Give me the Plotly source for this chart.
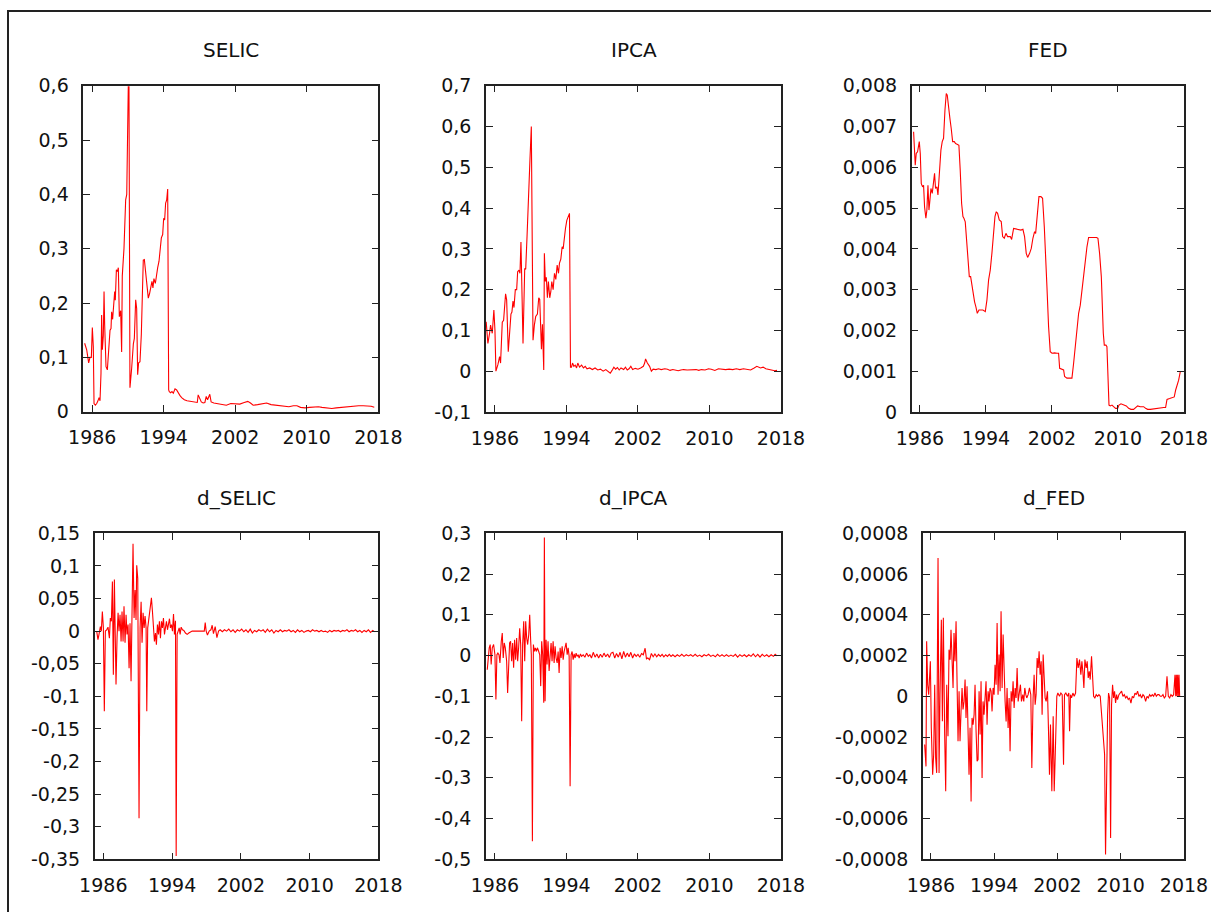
import plotly.graph_objects as go

W, H = 1211, 912

# ---------------- data (decimal year, value) ----------------
SELIC = [
    (1985.15, 0.126), (1985.38, 0.114), (1985.60, 0.090), (1985.75, 0.100), (1985.90, 0.100),
    (1986.01, 0.155), (1986.12, 0.120), (1986.20, 0.015), (1986.35, 0.012), (1986.50, 0.015),
    (1986.64, 0.020), (1986.76, 0.026), (1986.87, 0.020), (1986.98, 0.071), (1987.05, 0.178),
    (1987.13, 0.114), (1987.24, 0.140), (1987.32, 0.221), (1987.39, 0.160), (1987.54, 0.083),
    (1987.69, 0.077), (1987.84, 0.120), (1987.99, 0.150), (1988.10, 0.153), (1988.17, 0.184),
    (1988.28, 0.170), (1988.36, 0.184), (1988.51, 0.221), (1988.58, 0.205), (1988.70, 0.261),
    (1988.81, 0.258), (1988.92, 0.265), (1989.03, 0.175), (1989.18, 0.186), (1989.29, 0.110),
    (1989.36, 0.250), (1989.55, 0.300), (1989.74, 0.390), (1989.86, 0.400), (1989.92, 0.500),
    (1990.03, 0.598), (1990.11, 0.598), (1990.22, 0.044), (1990.41, 0.080), (1990.52, 0.110),
    (1990.60, 0.125), (1990.71, 0.135), (1990.86, 0.206), (1990.97, 0.190), (1991.08, 0.068),
    (1991.19, 0.090), (1991.34, 0.092), (1991.49, 0.142), (1991.64, 0.215), (1991.71, 0.279),
    (1991.83, 0.280), (1991.98, 0.255), (1992.09, 0.245), (1992.27, 0.209), (1992.42, 0.218),
    (1992.53, 0.230), (1992.68, 0.240), (1992.79, 0.228), (1992.90, 0.245), (1993.06, 0.236),
    (1993.17, 0.250), (1993.32, 0.265), (1993.47, 0.277), (1993.62, 0.300), (1993.73, 0.320),
    (1993.88, 0.326), (1993.99, 0.356), (1994.10, 0.353), (1994.21, 0.384), (1994.33, 0.390),
    (1994.44, 0.410), (1994.55, 0.040), (1994.62, 0.037), (1994.77, 0.035), (1994.92, 0.037),
    (1995.07, 0.034), (1995.26, 0.042), (1995.44, 0.040), (1995.63, 0.034), (1995.80, 0.030),
    (1996.00, 0.026), (1996.30, 0.022), (1996.60, 0.020), (1997.00, 0.019), (1997.40, 0.018),
    (1997.75, 0.017), (1997.85, 0.031), (1998.00, 0.025), (1998.20, 0.018), (1998.40, 0.016),
    (1998.60, 0.017), (1998.75, 0.028), (1998.90, 0.022), (1999.15, 0.032), (1999.30, 0.018),
    (1999.60, 0.016), (2000.00, 0.015), (2000.50, 0.014), (2001.00, 0.012), (2001.50, 0.015),
    (2002.00, 0.015), (2002.50, 0.014), (2003.00, 0.017), (2003.40, 0.019), (2003.70, 0.016),
    (2004.00, 0.012), (2004.50, 0.013), (2005.00, 0.014), (2005.50, 0.016), (2006.00, 0.013),
    (2006.50, 0.012), (2007.00, 0.011), (2007.50, 0.010), (2008.00, 0.009), (2008.50, 0.011),
    (2008.90, 0.011), (2009.30, 0.008), (2009.80, 0.007), (2010.30, 0.008), (2010.80, 0.009),
    (2011.30, 0.009), (2011.70, 0.008), (2012.30, 0.007), (2012.80, 0.006), (2013.30, 0.007),
    (2013.80, 0.008), (2014.30, 0.008), (2014.80, 0.009), (2015.30, 0.010), (2015.80, 0.011),
    (2016.30, 0.011), (2016.80, 0.011), (2017.20, 0.010), (2017.55, 0.008),
]

IPCA = [
    (1985.02, 0.121), (1985.21, 0.068), (1985.40, 0.093), (1985.51, 0.113), (1985.70, 0.093),
    (1985.88, 0.150), (1986.00, 0.101), (1986.11, 0.000), (1986.33, 0.016), (1986.52, 0.036),
    (1986.63, 0.020), (1986.82, 0.120), (1986.97, 0.125), (1987.19, 0.190), (1987.31, 0.175),
    (1987.49, 0.048), (1987.64, 0.093), (1987.79, 0.140), (1987.90, 0.145), (1988.02, 0.172),
    (1988.13, 0.156), (1988.28, 0.200), (1988.43, 0.200), (1988.54, 0.244), (1988.69, 0.248),
    (1988.80, 0.240), (1988.91, 0.317), (1989.03, 0.200), (1989.14, 0.068), (1989.33, 0.252),
    (1989.44, 0.250), (1989.59, 0.330), (1989.74, 0.400), (1989.92, 0.520), (1990.07, 0.600),
    (1990.26, 0.076), (1990.41, 0.113), (1990.56, 0.134), (1990.75, 0.140), (1990.90, 0.180),
    (1991.01, 0.176), (1991.12, 0.090), (1991.20, 0.054), (1991.31, 0.115), (1991.46, 0.003),
    (1991.53, 0.289), (1991.64, 0.220), (1991.75, 0.230), (1991.87, 0.180), (1991.98, 0.220),
    (1992.13, 0.180), (1992.25, 0.195), (1992.36, 0.220), (1992.51, 0.200), (1992.66, 0.240),
    (1992.81, 0.225), (1992.96, 0.260), (1993.11, 0.240), (1993.22, 0.265), (1993.37, 0.275),
    (1993.52, 0.305), (1993.63, 0.300), (1993.78, 0.340), (1993.89, 0.350), (1994.04, 0.370),
    (1994.19, 0.378), (1994.34, 0.387), (1994.45, 0.010), (1994.56, 0.010), (1994.68, 0.020),
    (1994.83, 0.012), (1994.98, 0.015), (1995.13, 0.008), (1995.27, 0.020), (1995.46, 0.010),
    (1995.70, 0.015), (1995.90, 0.008), (1996.10, 0.012), (1996.30, 0.006), (1996.60, 0.008),
    (1996.90, 0.004), (1997.20, 0.008), (1997.50, 0.003), (1997.80, 0.005), (1998.10, 0.000),
    (1998.40, 0.004), (1998.70, -0.002), (1998.90, -0.005), (1999.10, 0.002), (1999.30, 0.010),
    (1999.50, 0.005), (1999.70, 0.009), (1999.90, 0.003), (2000.10, 0.008), (2000.40, 0.004),
    (2000.60, 0.010), (2000.80, 0.003), (2001.00, 0.006), (2001.20, 0.012), (2001.40, 0.004),
    (2001.70, 0.007), (2002.00, 0.005), (2002.30, 0.008), (2002.60, 0.012), (2002.75, 0.020),
    (2002.85, 0.030), (2003.05, 0.020), (2003.30, 0.012), (2003.50, 0.000), (2003.70, 0.005),
    (2004.00, 0.004), (2004.30, 0.006), (2004.60, 0.004), (2005.00, 0.006), (2005.30, 0.005),
    (2005.60, 0.002), (2005.90, 0.004), (2006.20, 0.003), (2006.50, 0.001), (2006.80, 0.003),
    (2007.10, 0.004), (2007.50, 0.003), (2007.90, 0.004), (2008.20, 0.005), (2008.50, 0.004),
    (2008.80, 0.002), (2009.10, 0.004), (2009.50, 0.003), (2009.90, 0.006), (2010.20, 0.005),
    (2010.60, 0.002), (2011.00, 0.006), (2011.40, 0.005), (2011.80, 0.004), (2012.20, 0.005),
    (2012.60, 0.004), (2013.00, 0.006), (2013.40, 0.004), (2013.80, 0.006), (2014.20, 0.005),
    (2014.60, 0.003), (2015.00, 0.008), (2015.30, 0.012), (2015.70, 0.008), (2016.00, 0.010),
    (2016.30, 0.006), (2016.70, 0.004), (2017.00, 0.003), (2017.30, 0.001), (2017.55, 0.002),
]

FED = [
    (1985.23, 6.87e-3), (1985.43, 6.05e-3), (1985.55, 6.34e-3), (1985.71, 6.38e-3), (1985.92, 6.63e-3),
    (1986.04, 6.34e-3), (1986.16, 5.60e-3), (1986.32, 5.52e-3), (1986.44, 5.56e-3), (1986.56, 5.03e-3),
    (1986.72, 4.75e-3), (1986.84, 4.95e-3), (1986.97, 5.56e-3), (1987.09, 4.95e-3), (1987.21, 5.20e-3),
    (1987.33, 5.48e-3), (1987.49, 5.36e-3), (1987.65, 5.65e-3), (1987.77, 5.85e-3), (1987.89, 5.48e-3),
    (1988.06, 5.52e-3), (1988.18, 5.32e-3), (1988.34, 5.93e-3), (1988.54, 6.42e-3), (1988.70, 6.63e-3),
    (1988.86, 6.71e-3), (1989.03, 7.40e-3), (1989.19, 7.81e-3), (1989.31, 7.77e-3), (1989.47, 7.40e-3),
    (1989.63, 7.20e-3), (1989.79, 6.95e-3), (1989.96, 6.63e-3), (1990.16, 6.63e-3), (1990.32, 6.58e-3),
    (1990.56, 6.56e-3), (1990.72, 6.54e-3), (1990.88, 5.93e-3), (1991.05, 5.11e-3), (1991.21, 4.79e-3),
    (1991.33, 4.75e-3), (1991.49, 4.66e-3), (1991.65, 4.22e-3), (1991.81, 3.73e-3), (1991.98, 3.32e-3),
    (1992.14, 3.32e-3), (1992.30, 3.07e-3), (1992.46, 2.91e-3), (1992.62, 2.70e-3), (1992.78, 2.58e-3),
    (1992.95, 2.42e-3), (1993.15, 2.50e-3), (1993.39, 2.50e-3), (1993.63, 2.50e-3), (1993.92, 2.46e-3),
    (1994.12, 2.75e-3), (1994.32, 3.24e-3), (1994.52, 3.48e-3), (1994.72, 3.89e-3), (1994.93, 4.38e-3),
    (1995.09, 4.79e-3), (1995.25, 4.91e-3), (1995.41, 4.87e-3), (1995.61, 4.71e-3), (1995.85, 4.67e-3),
    (1996.02, 4.30e-3), (1996.22, 4.26e-3), (1996.42, 4.38e-3), (1996.62, 4.30e-3), (1996.95, 4.30e-3),
    (1997.11, 4.23e-3), (1997.35, 4.50e-3), (1997.67, 4.48e-3), (1997.96, 4.48e-3), (1998.24, 4.46e-3),
    (1998.48, 4.48e-3), (1998.68, 4.30e-3), (1998.88, 3.89e-3), (1999.05, 3.79e-3), (1999.29, 3.89e-3),
    (1999.49, 4.01e-3), (1999.69, 4.26e-3), (1999.89, 4.42e-3), (2000.02, 4.38e-3), (2000.18, 4.71e-3),
    (2000.42, 5.28e-3), (2000.66, 5.28e-3), (2000.86, 5.24e-3), (2001.07, 4.54e-3), (2001.23, 3.56e-3),
    (2001.39, 3.07e-3), (2001.59, 2.09e-3), (2001.79, 1.48e-3), (2002.00, 1.44e-3), (2002.32, 1.45e-3),
    (2002.60, 1.44e-3), (2002.80, 1.44e-3), (2002.93, 1.07e-3), (2003.21, 1.05e-3), (2003.41, 1.03e-3),
    (2003.53, 0.87e-3), (2003.81, 0.83e-3), (2004.14, 0.83e-3), (2004.42, 0.83e-3), (2004.62, 1.19e-3),
    (2004.82, 1.60e-3), (2005.03, 2.00e-3), (2005.23, 2.42e-3), (2005.43, 2.62e-3), (2005.63, 2.99e-3),
    (2005.83, 3.44e-3), (2006.04, 3.81e-3), (2006.24, 4.05e-3), (2006.44, 4.28e-3), (2006.64, 4.28e-3),
    (2007.05, 4.28e-3), (2007.41, 4.28e-3), (2007.57, 4.26e-3), (2007.77, 3.89e-3), (2007.98, 3.32e-3),
    (2008.10, 2.42e-3), (2008.22, 1.93e-3), (2008.34, 1.64e-3), (2008.54, 1.64e-3), (2008.66, 1.60e-3),
    (2008.78, 0.70e-3), (2008.91, 0.17e-3), (2009.07, 0.15e-3), (2009.27, 0.17e-3), (2009.47, 0.13e-3),
    (2009.71, 0.09e-3), (2009.96, 0.09e-3), (2010.12, 0.17e-3), (2010.36, 0.20e-3), (2010.68, 0.17e-3),
    (2011.01, 0.15e-3), (2011.29, 0.09e-3), (2011.57, 0.065e-3), (2011.89, 0.065e-3), (2012.14, 0.11e-3),
    (2012.38, 0.15e-3), (2012.70, 0.13e-3), (2013.11, 0.13e-3), (2013.35, 0.09e-3), (2013.59, 0.065e-3),
    (2013.92, 0.065e-3), (2014.32, 0.08e-3), (2014.72, 0.09e-3), (2015.13, 0.10e-3), (2015.53, 0.11e-3),
    (2015.77, 0.11e-3), (2015.94, 0.31e-3), (2016.26, 0.33e-3), (2016.54, 0.35e-3), (2016.82, 0.37e-3),
    (2016.99, 0.54e-3), (2017.19, 0.66e-3), (2017.35, 0.78e-3), (2017.55, 0.99e-3),
]

D_SELIC = [
    (1985.23, 0.000), (1985.38, -0.013), (1985.50, -0.005), (1985.66, 0.007), (1985.77, 0.000),
    (1985.89, 0.030), (1986.01, 0.005), (1986.12, -0.123), (1986.24, 0.000), (1986.39, 0.002),
    (1986.55, 0.006), (1986.71, -0.011), (1986.82, 0.020), (1986.94, 0.015), (1987.06, 0.076),
    (1987.17, -0.067), (1987.29, 0.079), (1987.40, -0.005), (1987.48, -0.082), (1987.60, -0.010),
    (1987.72, 0.028), (1987.83, 0.000), (1987.95, 0.025), (1988.07, -0.016), (1988.18, 0.030),
    (1988.30, -0.016), (1988.41, 0.038), (1988.53, -0.018), (1988.65, 0.025), (1988.76, -0.005),
    (1988.88, 0.010), (1989.00, -0.057), (1989.11, 0.012), (1989.23, -0.077), (1989.35, 0.015),
    (1989.46, 0.134), (1989.58, 0.020), (1989.70, 0.063), (1989.81, 0.017), (1989.89, 0.101),
    (1990.01, 0.081), (1990.16, -0.287), (1990.28, 0.005), (1990.40, 0.045), (1990.51, -0.018),
    (1990.63, 0.028), (1990.75, 0.005), (1990.86, 0.023), (1990.98, 0.005), (1991.06, -0.123),
    (1991.17, 0.005), (1991.29, 0.020), (1991.45, 0.030), (1991.60, 0.051), (1991.72, 0.030),
    (1991.83, 0.000), (1991.95, -0.016), (1992.07, -0.003), (1992.18, -0.021), (1992.30, 0.010),
    (1992.42, -0.005), (1992.53, 0.015), (1992.65, -0.011), (1992.77, 0.015), (1992.88, 0.005),
    (1993.00, 0.020), (1993.12, -0.005), (1993.23, 0.005), (1993.35, 0.015), (1993.47, 0.002),
    (1993.58, 0.012), (1993.70, 0.019), (1993.81, 0.005), (1993.93, 0.010), (1994.05, 0.000),
    (1994.17, 0.026), (1994.28, -0.005), (1994.40, 0.016), (1994.48, -0.345), (1994.59, -0.005),
    (1994.71, 0.000), (1994.83, 0.005), (1994.94, -0.005), (1995.06, 0.006), (1995.21, 0.002),
    (1995.37, 0.001), (1995.56, -0.003), (1995.76, -0.005), (1995.95, -0.003), (1996.34, 0.000),
    (1997.12, 0.000), (1997.50, 0.000), (1997.75, 0.000), (1997.86, 0.013), (1997.97, 0.000),
    (1998.12, -0.006), (1998.32, 0.000), (1998.52, 0.002), (1998.67, 0.009), (1998.82, -0.004),
    (1999.02, 0.007), (1999.22, -0.010), (1999.41, 0.000), (1999.60, 0.002), (1999.85, -0.001),
    (2000.10, 0.002), (2000.35, 0.000), (2000.60, 0.003), (2000.85, -0.001), (2001.10, 0.002),
    (2001.35, -0.002), (2001.60, 0.002), (2001.85, 0.000), (2002.10, 0.003), (2002.35, -0.001),
    (2002.60, 0.002), (2002.85, -0.002), (2003.10, 0.003), (2003.35, -0.003), (2003.60, 0.001),
    (2003.85, -0.001), (2004.10, 0.002), (2004.35, 0.000), (2004.60, 0.002), (2004.85, -0.002),
    (2005.10, 0.003), (2005.35, -0.001), (2005.60, 0.002), (2005.85, -0.003), (2006.10, 0.001),
    (2006.35, -0.001), (2006.60, 0.002), (2006.85, -0.001), (2007.10, 0.001), (2007.35, 0.000),
    (2007.60, 0.002), (2007.85, -0.001), (2008.10, 0.001), (2008.35, -0.002), (2008.60, 0.002),
    (2008.85, -0.001), (2009.10, 0.001), (2009.35, -0.002), (2009.60, 0.000), (2009.85, 0.001),
    (2010.10, -0.001), (2010.35, 0.002), (2010.60, 0.000), (2010.85, 0.001), (2011.10, -0.001),
    (2011.35, 0.001), (2011.60, -0.001), (2011.85, 0.000), (2012.10, -0.002), (2012.35, 0.001),
    (2012.60, -0.001), (2012.85, 0.001), (2013.10, 0.000), (2013.35, 0.001), (2013.60, -0.001),
    (2013.85, 0.001), (2014.10, 0.000), (2014.35, 0.002), (2014.60, -0.001), (2014.85, 0.001),
    (2015.10, 0.000), (2015.35, 0.002), (2015.60, -0.001), (2015.85, 0.001), (2016.10, -0.002),
    (2016.35, 0.001), (2016.60, -0.001), (2016.85, 0.002), (2017.10, -0.002), (2017.35, 0.001),
    (2017.55, -0.001),
]

D_IPCA = [
    (1985.14, -0.035), (1985.25, -0.006), (1985.36, 0.019), (1985.47, 0.027), (1985.58, -0.022),
    (1985.70, 0.019), (1985.85, 0.027), (1986.00, 0.002), (1986.11, -0.108), (1986.22, 0.002),
    (1986.33, 0.006), (1986.45, 0.002), (1986.56, -0.018), (1986.71, 0.035), (1986.82, 0.055),
    (1986.93, -0.006), (1987.04, 0.031), (1987.16, 0.019), (1987.31, -0.014), (1987.42, -0.092),
    (1987.53, 0.002), (1987.64, 0.031), (1987.75, 0.035), (1987.87, -0.014), (1987.98, 0.031),
    (1988.09, -0.030), (1988.20, 0.039), (1988.32, -0.010), (1988.43, 0.043), (1988.54, -0.014),
    (1988.65, 0.019), (1988.77, 0.067), (1988.88, 0.027), (1988.99, -0.161), (1989.10, 0.027),
    (1989.22, 0.084), (1989.33, -0.014), (1989.44, 0.084), (1989.55, 0.043), (1989.66, 0.027),
    (1989.78, 0.051), (1989.89, 0.100), (1990.00, 0.035), (1990.07, 0.002), (1990.19, -0.456),
    (1990.30, 0.027), (1990.41, 0.010), (1990.52, 0.019), (1990.64, 0.010), (1990.75, 0.019),
    (1990.90, 0.010), (1991.01, 0.002), (1991.12, -0.075), (1991.23, 0.035), (1991.34, 0.002),
    (1991.46, -0.116), (1991.53, 0.290), (1991.61, -0.112), (1991.72, 0.039), (1991.83, -0.022),
    (1991.94, 0.035), (1992.06, -0.038), (1992.17, -0.002), (1992.28, 0.031), (1992.39, -0.014),
    (1992.51, 0.035), (1992.62, -0.018), (1992.73, 0.023), (1992.84, -0.006), (1992.96, -0.018),
    (1993.07, 0.010), (1993.18, -0.043), (1993.29, 0.019), (1993.40, -0.006), (1993.52, 0.023),
    (1993.63, -0.010), (1993.74, 0.010), (1993.85, 0.019), (1993.96, 0.031), (1994.08, 0.002),
    (1994.19, 0.019), (1994.30, -0.002), (1994.41, -0.321), (1994.52, 0.002), (1994.63, 0.010),
    (1994.75, -0.010), (1994.86, 0.004), (1994.97, -0.006), (1995.08, 0.006), (1995.19, -0.002),
    (1995.31, 0.002), (1995.42, -0.006), (1995.57, 0.004), (1995.69, -0.002), (1995.87, 0.002),
    (1996.06, -0.004), (1996.25, 0.006), (1996.44, -0.002), (1996.62, 0.002), (1996.80, -0.006),
    (1997.00, 0.008), (1997.20, -0.004), (1997.40, 0.004), (1997.60, -0.006), (1997.80, 0.003),
    (1998.00, -0.004), (1998.20, 0.006), (1998.40, -0.003), (1998.60, 0.004), (1998.80, -0.005),
    (1999.00, 0.006), (1999.20, 0.008), (1999.40, -0.006), (1999.60, 0.005), (1999.80, -0.004),
    (2000.00, 0.008), (2000.20, -0.008), (2000.40, 0.010), (2000.60, -0.004), (2000.80, 0.006),
    (2001.00, -0.003), (2001.20, 0.008), (2001.40, -0.006), (2001.60, 0.004), (2001.80, -0.002),
    (2002.00, 0.003), (2002.20, -0.004), (2002.40, 0.005), (2002.60, 0.002), (2002.80, 0.018),
    (2002.95, -0.008), (2003.10, -0.006), (2003.30, -0.010), (2003.50, 0.005), (2003.70, -0.003),
    (2003.90, 0.004), (2004.10, -0.003), (2004.30, 0.003), (2004.50, -0.002), (2004.70, 0.003),
    (2004.90, -0.003), (2005.10, 0.002), (2005.30, -0.002), (2005.50, 0.003), (2005.70, -0.002),
    (2005.90, 0.002), (2006.15, -0.003), (2006.40, 0.002), (2006.65, -0.002), (2006.90, 0.003),
    (2007.15, -0.002), (2007.40, 0.002), (2007.65, -0.001), (2007.90, 0.002), (2008.15, -0.002),
    (2008.40, 0.003), (2008.65, -0.002), (2008.90, 0.001), (2009.15, -0.003), (2009.40, 0.002),
    (2009.65, -0.001), (2009.90, 0.003), (2010.15, -0.002), (2010.40, 0.001), (2010.65, -0.003),
    (2010.90, 0.003), (2011.15, -0.002), (2011.40, 0.002), (2011.65, -0.002), (2011.90, 0.002),
    (2012.15, -0.002), (2012.40, 0.001), (2012.65, -0.002), (2012.90, 0.003), (2013.15, -0.004),
    (2013.40, 0.002), (2013.65, -0.002), (2013.90, 0.002), (2014.15, -0.003), (2014.40, 0.002),
    (2014.65, -0.002), (2014.90, 0.004), (2015.15, -0.003), (2015.40, 0.003), (2015.65, -0.004),
    (2015.90, 0.003), (2016.15, -0.002), (2016.40, 0.002), (2016.65, -0.003), (2016.90, 0.002),
    (2017.15, -0.002), (2017.35, 0.003), (2017.55, -0.001),
]

D_FED = [
    (1985.21, -2.37e-4), (1985.38, -3.44e-4), (1985.46, 2.70e-4), (1985.59, 0.57e-4), (1985.72, 0.08e-4),
    (1985.84, 0.74e-4), (1985.93, 1.72e-4), (1986.05, -1.55e-4), (1986.22, -3.85e-4), (1986.35, -2.86e-4),
    (1986.48, 0.57e-4), (1986.60, -3.03e-4), (1986.73, -3.76e-4), (1986.90, 6.79e-4), (1987.03, -3.76e-4),
    (1987.15, 0.08e-4), (1987.32, 3.76e-4), (1987.45, -1.23e-4), (1987.57, 3.85e-4), (1987.74, -1.88e-4),
    (1987.87, -4.66e-4), (1988.00, 0.57e-4), (1988.16, -1.96e-4), (1988.29, 2.29e-4), (1988.42, 1.80e-4),
    (1988.54, 3.27e-4), (1988.67, 1.39e-4), (1988.80, 0.41e-4), (1988.92, 3.11e-4), (1989.05, 1.72e-4),
    (1989.18, 3.68e-4), (1989.30, -0.08e-4), (1989.43, -2.21e-4), (1989.56, 0.25e-4), (1989.68, -2.21e-4),
    (1989.81, -0.74e-4), (1989.94, 0.41e-4), (1990.06, -0.65e-4), (1990.19, -0.25e-4), (1990.32, 0.82e-4),
    (1990.44, -1.06e-4), (1990.57, 0.49e-4), (1990.70, -1.55e-4), (1990.82, -3.85e-4), (1990.95, -1.55e-4),
    (1991.08, -5.16e-4), (1991.20, -1.06e-4), (1991.33, -1.39e-4), (1991.46, -0.90e-4), (1991.58, 0.57e-4),
    (1991.71, -1.72e-4), (1991.84, -3.19e-4), (1991.96, -3.11e-4), (1992.09, 0.25e-4), (1992.22, -1.88e-4),
    (1992.34, 0.74e-4), (1992.47, -4.01e-4), (1992.59, -0.25e-4), (1992.72, -0.90e-4), (1992.85, -0.08e-4),
    (1992.97, 0.74e-4), (1993.10, -1.39e-4), (1993.23, 0.25e-4), (1993.35, -0.25e-4), (1993.48, 0.41e-4),
    (1993.61, 0.25e-4), (1993.73, -0.74e-4), (1993.86, 0.41e-4), (1993.99, 0.08e-4), (1994.11, 1.55e-4),
    (1994.24, 0.57e-4), (1994.37, 3.60e-4), (1994.49, 0.08e-4), (1994.62, 2.05e-4), (1994.75, 0.25e-4),
    (1994.87, 4.17e-4), (1995.00, 0.41e-4), (1995.13, 3.03e-4), (1995.25, 0.74e-4), (1995.38, -0.25e-4),
    (1995.51, -1.23e-4), (1995.63, 0.41e-4), (1995.76, -1.55e-4), (1995.89, -0.08e-4), (1996.01, -2.70e-4),
    (1996.14, 0.25e-4), (1996.27, -0.25e-4), (1996.39, 0.74e-4), (1996.52, -0.57e-4), (1996.65, 0.41e-4),
    (1996.77, -0.08e-4), (1996.90, 1.39e-4), (1997.03, -0.25e-4), (1997.19, 0.41e-4), (1997.32, 0.57e-4),
    (1997.45, -0.25e-4), (1997.62, 0.08e-4), (1997.74, -0.25e-4), (1997.87, 0.41e-4), (1998.00, 0.08e-4),
    (1998.12, -0.08e-4), (1998.29, 0.08e-4), (1998.46, 0.41e-4), (1998.63, 0.08e-4), (1998.76, -3.52e-4),
    (1998.92, -0.08e-4), (1999.05, 1.06e-4), (1999.18, -0.41e-4), (1999.30, 0.08e-4), (1999.43, 1.88e-4),
    (1999.56, 1.39e-4), (1999.68, 2.21e-4), (1999.81, 1.06e-4), (1999.94, 1.72e-4), (2000.06, -0.90e-4),
    (2000.19, 2.05e-4), (2000.32, 1.06e-4), (2000.44, -0.08e-4), (2000.57, -0.25e-4), (2000.74, 0.25e-4),
    (2000.86, -1.55e-4), (2000.99, -3.85e-4), (2001.12, -1.39e-4), (2001.29, -4.66e-4), (2001.46, -0.98e-4),
    (2001.59, -4.66e-4), (2001.71, -3.03e-4), (2001.92, 0.00e-4), (2002.05, 0.16e-4), (2002.26, 0.00e-4),
    (2002.43, 0.16e-4), (2002.60, 0.08e-4), (2002.77, -3.36e-4), (2002.89, 0.08e-4), (2003.06, 0.16e-4),
    (2003.27, 0.00e-4), (2003.44, 0.16e-4), (2003.53, -1.72e-4), (2003.65, 0.08e-4), (2003.78, -0.08e-4),
    (2003.95, 0.16e-4), (2004.12, 0.00e-4), (2004.29, 0.16e-4), (2004.46, 1.88e-4), (2004.62, 1.39e-4),
    (2004.79, 1.80e-4), (2004.96, 1.06e-4), (2005.09, 1.72e-4), (2005.21, 1.23e-4), (2005.34, 0.41e-4),
    (2005.47, 1.80e-4), (2005.64, 1.39e-4), (2005.76, 1.72e-4), (2005.89, 0.90e-4), (2006.02, 1.23e-4),
    (2006.14, 0.82e-4), (2006.31, 1.96e-4), (2006.44, 0.57e-4), (2006.57, 0.00e-4), (2006.73, -0.08e-4),
    (2006.90, 0.08e-4), (2007.07, 0.00e-4), (2007.24, 0.08e-4), (2007.41, 0.00e-4), (2007.54, -0.65e-4),
    (2007.70, -1.88e-4), (2007.83, -2.21e-4), (2007.96, -2.86e-4), (2008.08, -7.77e-4), (2008.21, -2.37e-4),
    (2008.34, -0.90e-4), (2008.46, 0.16e-4), (2008.59, -0.08e-4), (2008.72, -6.96e-4), (2008.84, -0.41e-4),
    (2008.97, 0.57e-4), (2009.10, -0.08e-4), (2009.22, 0.25e-4), (2009.35, -0.33e-4), (2009.48, 0.08e-4),
    (2009.60, -0.16e-4), (2009.77, 0.08e-4), (2009.94, 0.16e-4), (2010.11, 0.25e-4), (2010.28, 0.00e-4),
    (2010.45, 0.08e-4), (2010.62, -0.08e-4), (2010.78, 0.00e-4), (2010.95, -0.16e-4), (2011.12, -0.08e-4),
    (2011.29, -0.33e-4), (2011.46, 0.00e-4), (2011.63, -0.08e-4), (2011.80, 0.16e-4), (2011.97, 0.08e-4),
    (2012.13, 0.25e-4), (2012.30, 0.00e-4), (2012.47, 0.08e-4), (2012.64, -0.08e-4), (2012.81, 0.08e-4),
    (2012.98, 0.00e-4), (2013.15, -0.25e-4), (2013.32, 0.00e-4), (2013.49, -0.08e-4), (2013.65, 0.08e-4),
    (2013.82, 0.00e-4), (2013.99, 0.08e-4), (2014.16, 0.00e-4), (2014.33, 0.16e-4), (2014.50, 0.00e-4),
    (2014.67, 0.08e-4), (2014.84, 0.08e-4), (2015.00, 0.00e-4), (2015.17, 0.00e-4), (2015.34, 0.08e-4),
    (2015.51, -0.08e-4), (2015.68, 0.00e-4), (2015.85, 0.98e-4), (2016.02, 0.00e-4), (2016.19, -0.08e-4),
    (2016.35, 0.08e-4), (2016.52, 0.00e-4), (2016.69, 0.08e-4), (2016.86, 1.06e-4), (2016.95, 0.00e-4),
    (2017.03, 1.06e-4), (2017.11, 0.00e-4), (2017.20, 1.06e-4), (2017.28, 0.00e-4), (2017.37, 1.06e-4),
    (2017.45, 0.00e-4),
]

TITLES = ["SELIC", "IPCA", "FED", "d_SELIC", "d_IPCA", "d_FED"]

YEAR_TICKS = [1986, 1994, 2002, 2010, 2018]
YEAR_LABELS = ["1986", "1994", "2002", "2010", "2018"]

SELIC_YT = [0, 0.1, 0.2, 0.3, 0.4, 0.5, 0.6]
SELIC_YL = ["0", "0,1", "0,2", "0,3", "0,4", "0,5", "0,6"]
IPCA_YT = [-0.1, 0, 0.1, 0.2, 0.3, 0.4, 0.5, 0.6, 0.7]
IPCA_YL = ["-0,1", "0", "0,1", "0,2", "0,3", "0,4", "0,5", "0,6", "0,7"]
FED_YT = [0, 0.001, 0.002, 0.003, 0.004, 0.005, 0.006, 0.007, 0.008]
FED_YL = ["0", "0,001", "0,002", "0,003", "0,004", "0,005", "0,006", "0,007", "0,008"]
DSELIC_YT = [-0.35, -0.3, -0.25, -0.2, -0.15, -0.1, -0.05, 0, 0.05, 0.1, 0.15]
DSELIC_YL = ["-0,35", "-0,3", "-0,25", "-0,2", "-0,15", "-0,1", "-0,05", "0", "0,05", "0,1", "0,15"]
DIPCA_YT = [-0.5, -0.4, -0.3, -0.2, -0.1, 0, 0.1, 0.2, 0.3]
DIPCA_YL = ["-0,5", "-0,4", "-0,3", "-0,2", "-0,1", "0", "0,1", "0,2", "0,3"]
DFED_YT = [-0.0008, -0.0006, -0.0004, -0.0002, 0, 0.0002, 0.0004, 0.0006, 0.0008]
DFED_YL = ["-0,0008", "-0,0006", "-0,0004", "-0,0002", "0", "0,0002", "0,0004", "0,0006", "0,0008"]

# ---------------- layout (pixel boxes of each plot area) ----------------
panels = [
    dict(data=SELIC, box=(83.3, 378.3, 85.7, 411.7), yr=(0, 0.6), yt=SELIC_YT, yl=SELIC_YL, ty=50),
    dict(data=IPCA, box=(486.0, 781.0, 85.7, 412.0), yr=(-0.1, 0.7), yt=IPCA_YT, yl=IPCA_YL, ty=50),
    dict(data=FED, box=(911.7, 1184.0, 85.7, 412.0), yr=(0, 0.008), yt=FED_YT, yl=FED_YL, ty=50),
    dict(data=D_SELIC, box=(94.7, 378.3, 533.3, 859.3), yr=(-0.35, 0.15), yt=DSELIC_YT, yl=DSELIC_YL, ty=498),
    dict(data=D_IPCA, box=(486.0, 781.0, 533.3, 859.3), yr=(-0.5, 0.3), yt=DIPCA_YT, yl=DIPCA_YL, ty=498),
    dict(data=D_FED, box=(923.0, 1184.0, 533.3, 859.3), yr=(-0.0008, 0.0008), yt=DFED_YT, yl=DFED_YL, ty=498),
]

FONT = "DejaVu Sans"
TXT = "#111111"
AXC = "#222222"

fig = go.Figure()
layout_axes = {}
annotations = []
for i, p in enumerate(panels):
    sfx = "" if i == 0 else str(i + 1)
    t = [a for a, _ in p["data"]]
    v = [b for _, b in p["data"]]
    fig.add_trace(go.Scatter(
        x=t, y=v, mode="lines", line=dict(color="#ff0000", width=1.1),
        xaxis="x" + sfx, yaxis="y" + sfx, showlegend=False, hoverinfo="skip",
    ))
    x0, x1, y0, y1 = p["box"]
    common = dict(
        ticks="inside", ticklen=7, tickwidth=1, tickcolor=AXC,
        showline=True, linecolor=AXC, linewidth=1.5, mirror="ticks",
        showgrid=False, zeroline=False, automargin=False,
        tickfont=dict(family=FONT, size=19, color=TXT),
    )
    layout_axes["xaxis" + sfx] = dict(
        domain=[x0 / W, x1 / W], range=[1985, 2018], anchor="y" + sfx,
        tickmode="array", tickvals=YEAR_TICKS, ticktext=YEAR_LABELS,
        ticklabelstandoff=8, **common,
    )
    layout_axes["yaxis" + sfx] = dict(
        domain=[1 - y1 / H, 1 - y0 / H], range=list(p["yr"]), anchor="x" + sfx,
        tickmode="array", tickvals=p["yt"], ticktext=p["yl"],
        ticklabelstandoff=9, **common,
    )
    annotations.append(dict(
        text=TITLES[i], x=(x0 + x1) / 2 / W, y=1 - p["ty"] / H,
        xref="paper", yref="paper", xanchor="center", yanchor="middle",
        showarrow=False, font=dict(family=FONT, size=20, color=TXT),
    ))

fig.update_layout(
    template="none",
    width=W, height=H, margin=dict(l=0, r=0, t=0, b=0, pad=0),
    paper_bgcolor="white", plot_bgcolor="white",
    annotations=annotations,
    shapes=[dict(type="rect", xref="paper", yref="paper",
                 x0=8 / W, x1=1.02, y0=-0.02, y1=1 - 11 / H,
                 line=dict(color="#222222", width=2))],
    **layout_axes,
)

fig.write_html("out.html")
